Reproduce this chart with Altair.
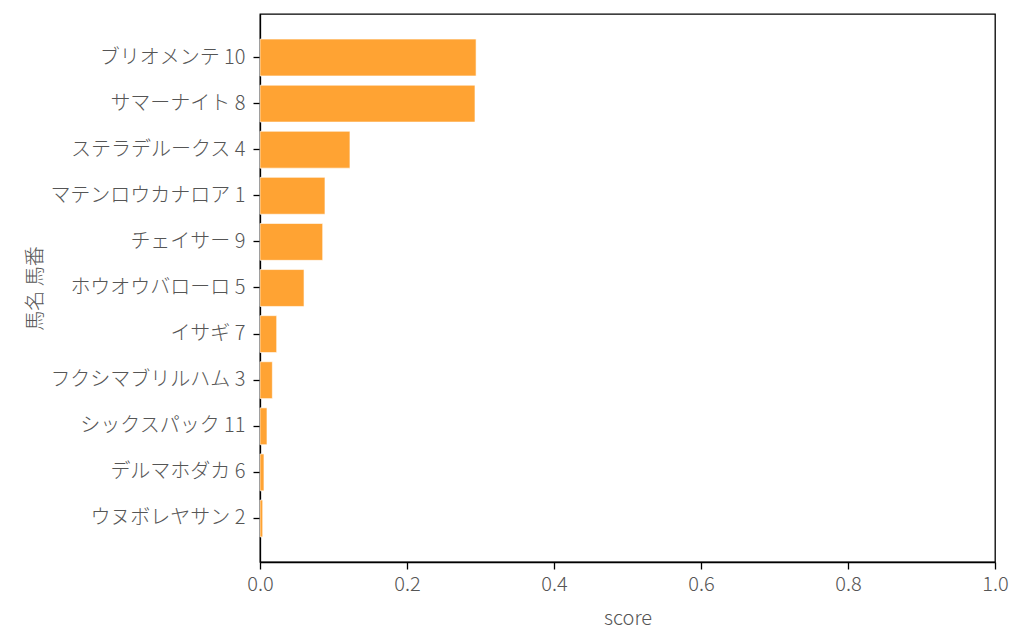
import altair as alt
import pandas as pd

names = ["ブリオメンテ 10", "サマーナイト 8", "ステラデルークス 4", "マテンロウカナロア 1",
         "チェイサー 9", "ホウオウバローロ 5", "イサギ 7", "フクシマブリルハム 3",
         "シックスパック 11", "デルマホダカ 6", "ウヌボレヤサン 2"]
scores = [0.294, 0.2925, 0.1224, 0.0884, 0.0853, 0.0599, 0.0227, 0.0168, 0.0095, 0.0054, 0.0037]

df = pd.DataFrame({"name": names, "score": scores})

FONT = "Noto Sans CJK JP"
GREY = "#555555"
FS = 20

chart = alt.Chart(df).mark_bar(color="#FFA333", stroke="white", strokeWidth=0.6).encode(
    x=alt.X("score:Q", title="score",
            scale=alt.Scale(domain=[0, 1], nice=False, zero=True),
            axis=alt.Axis(values=[0, 0.2, 0.4, 0.6, 0.8, 1.0], format=".1f", grid=False,
                          labelFlush=False, labelOverlap=False,
                          tickSize=7, tickWidth=1.3, tickColor="black",
                          domainColor="black", domainWidth=1.3,
                          labelFont=FONT, labelFontSize=FS, labelColor=GREY, labelFontWeight=300,
                          labelPadding=5,
                          titleFont=FONT, titleFontSize=FS, titleColor=GREY, titleFontWeight=300,
                          titlePadding=14)),
    y=alt.Y("name:N", title="馬名 馬番", sort=names,
            scale=alt.Scale(paddingInner=0.2, paddingOuter=0.544),
            axis=alt.Axis(grid=False, tickSize=7, tickWidth=1.3, tickColor="black",
                          domainColor="black", domainWidth=1.3, labelOverlap=False,
                          labelFont=FONT, labelFontSize=FS, labelColor=GREY, labelFontWeight=300,
                          labelPadding=8, labelLimit=400,
                          titleFont=FONT, titleFontSize=FS, titleColor=GREY, titleFontWeight=300,
                          titleX=-225, titleY=274, titleAngle=270,
                          titleAlign="center", titleBaseline="middle")),
).properties(
    width=735, height=548,
    autosize=alt.AutoSizeParams(type="none"),
    padding={"left": 252, "top": 6, "right": 20, "bottom": 80},
).configure_view(stroke="black", strokeWidth=1.3)

chart.save("out.html", embed_options={"renderer": "svg", "actions": False})
